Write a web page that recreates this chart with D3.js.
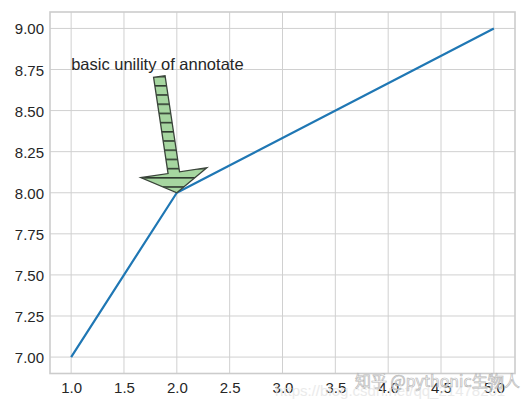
<!DOCTYPE html>
<html>
<head>
<meta charset="utf-8">
<script src="https://cdn.jsdelivr.net/npm/d3@7"></script>
<style>
  html, body { margin: 0; padding: 0; background: #fff; }
  svg { display: block; }
</style>
</head>
<body>
<svg id="chart" width="527" height="407"></svg>
<script>
// ---- data ----
const xValues = [1, 2, 5];
const yValues = [7, 8, 9];
const xTickValues = [1.0, 1.5, 2.0, 2.5, 3.0, 3.5, 4.0, 4.5, 5.0];
const yTickValues = [7.00, 7.25, 7.50, 7.75, 8.00, 8.25, 8.50, 8.75, 9.00];
const annotationText = "basic unility of annotate";
const annotationTextPos = [1, 8.75];
const annotationTarget = [2, 8];
const watermarkMain = "知乎 @pythonic生物人";
const watermarkUrl = "https://blog.csdn.net/qq_21478261";

// ---- layout ----
const plotLeft = 50, plotRight = 515, plotTop = 12, plotBottom = 373.5;
const svg = d3.select("#chart");
const font = "'Liberation Sans', Arial, sans-serif";

const x = d3.scaleLinear().domain([0.8, 5.2]).range([plotLeft, plotRight]);
const y = d3.scaleLinear().domain([6.9, 9.1]).range([plotBottom, plotTop]);

// grid
const gridColor = "#d0d0d0";
svg.append("g").selectAll("line").data(xTickValues).join("line")
  .attr("x1", d => x(d)).attr("x2", d => x(d))
  .attr("y1", plotTop).attr("y2", plotBottom)
  .attr("stroke", gridColor).attr("stroke-width", 1);
svg.append("g").selectAll("line").data(yTickValues).join("line")
  .attr("y1", d => y(d)).attr("y2", d => y(d))
  .attr("x1", plotLeft).attr("x2", plotRight)
  .attr("stroke", gridColor).attr("stroke-width", 1);

// frame
svg.append("rect")
  .attr("x", plotLeft).attr("y", plotTop)
  .attr("width", plotRight - plotLeft).attr("height", plotBottom - plotTop)
  .attr("fill", "none").attr("stroke", "#cccccc").attr("stroke-width", 1.6);

// tick labels via axes (no domain/tick lines)
const xAxis = d3.axisBottom(x).tickValues(xTickValues).tickFormat(d3.format(".1f")).tickSize(0).tickPadding(0);
const gx = svg.append("g").attr("transform", `translate(0,${plotBottom})`).call(xAxis);
gx.select(".domain").remove();
gx.selectAll("text").attr("dy", null).attr("y", 14)
  .attr("dominant-baseline", "central")
  .attr("font-family", font).attr("font-size", 15).attr("fill", "#262626");

const yAxis = d3.axisLeft(y).tickValues(yTickValues).tickFormat(d3.format(".2f")).tickSize(0).tickPadding(0);
const gy = svg.append("g").attr("transform", `translate(${plotLeft},0)`).call(yAxis);
gy.select(".domain").remove();
gy.selectAll("text").attr("dy", null).attr("x", -6)
  .attr("dominant-baseline", "central")
  .attr("font-family", font).attr("font-size", 15).attr("fill", "#262626");

// line
const line = d3.line().x((d, i) => x(xValues[i])).y(d => y(d));
svg.append("path").datum(yValues)
  .attr("d", line)
  .attr("fill", "none").attr("stroke", "#1f77b4").attr("stroke-width", 2.2)
  .attr("stroke-linejoin", "round");

// annotation text
const txt = svg.append("text")
  .attr("x", x(annotationTextPos[0])).attr("y", y(annotationTextPos[1]))
  .attr("font-family", font).attr("font-size", 16.5).attr("fill", "#262626")
  .text(annotationText);
const bb = txt.node().getBBox();

// fancy arrow with hatch
const defs = svg.append("defs");
const pat = defs.append("pattern").attr("id", "hatch")
  .attr("patternUnits", "userSpaceOnUse")
  .attr("x", 0).attr("y", 85 - 9.2 * 9).attr("width", 10).attr("height", 9.2);
pat.append("rect").attr("width", 10).attr("height", 9.2).attr("fill", "#a6d6a0");
pat.append("line").attr("x1", 0).attr("x2", 10).attr("y1", 0.8).attr("y2", 0.8)
  .attr("stroke", "#2f3a2f").attr("stroke-width", 1.6);

const cx = bb.x + bb.width / 2, cy = bb.y + bb.height / 2;
const tipX = x(annotationTarget[0]), tipY = y(annotationTarget[1]);
const ddx = tipX - cx, ddy = tipY - cy;
const len = Math.hypot(ddx, ddy);
const ux = ddx / len, uy = ddy / len;
const nx = -uy, ny = ux;
// start just below the text box
const tStart = (bb.y + bb.height + 4 - cy) / uy;
const sx = cx + ux * tStart, sy = cy + uy * tStart;
const halfShaft = 5.8, halfHead = 33.4, headLen = 20.3;
const bx = tipX - ux * headLen, by = tipY - uy * headLen;
const pts = [
  [sx + nx * halfShaft, sy + ny * halfShaft],
  [bx + nx * halfShaft, by + ny * halfShaft],
  [bx + nx * halfHead, by + ny * halfHead],
  [tipX, tipY],
  [bx - nx * halfHead, by - ny * halfHead],
  [bx - nx * halfShaft, by - ny * halfShaft],
  [sx - nx * halfShaft, sy - ny * halfShaft]
];
svg.append("path")
  .attr("d", d3.line()(pts) + "Z")
  .attr("fill", "url(#hatch)")
  .attr("stroke", "#3a443a").attr("stroke-width", 1.3)
  .attr("stroke-linejoin", "miter");

// watermark
svg.append("text")
  .attr("x", 275).attr("y", 396)
  .attr("font-family", font).attr("font-size", 15)
  .attr("fill", "#e6e6e6").attr("opacity", 0.8)
  .text(watermarkUrl);
svg.append("text")
  .attr("x", 355).attr("y", 387)
  .attr("font-family", "'Noto Sans CJK SC', sans-serif").attr("font-size", 16)
  .attr("fill", "#ffffff").attr("fill-opacity", 0.6)
  .attr("stroke", "#b8b8b8").attr("stroke-width", 0.7)
  .text(watermarkMain);
</script>
</body>
</html>
